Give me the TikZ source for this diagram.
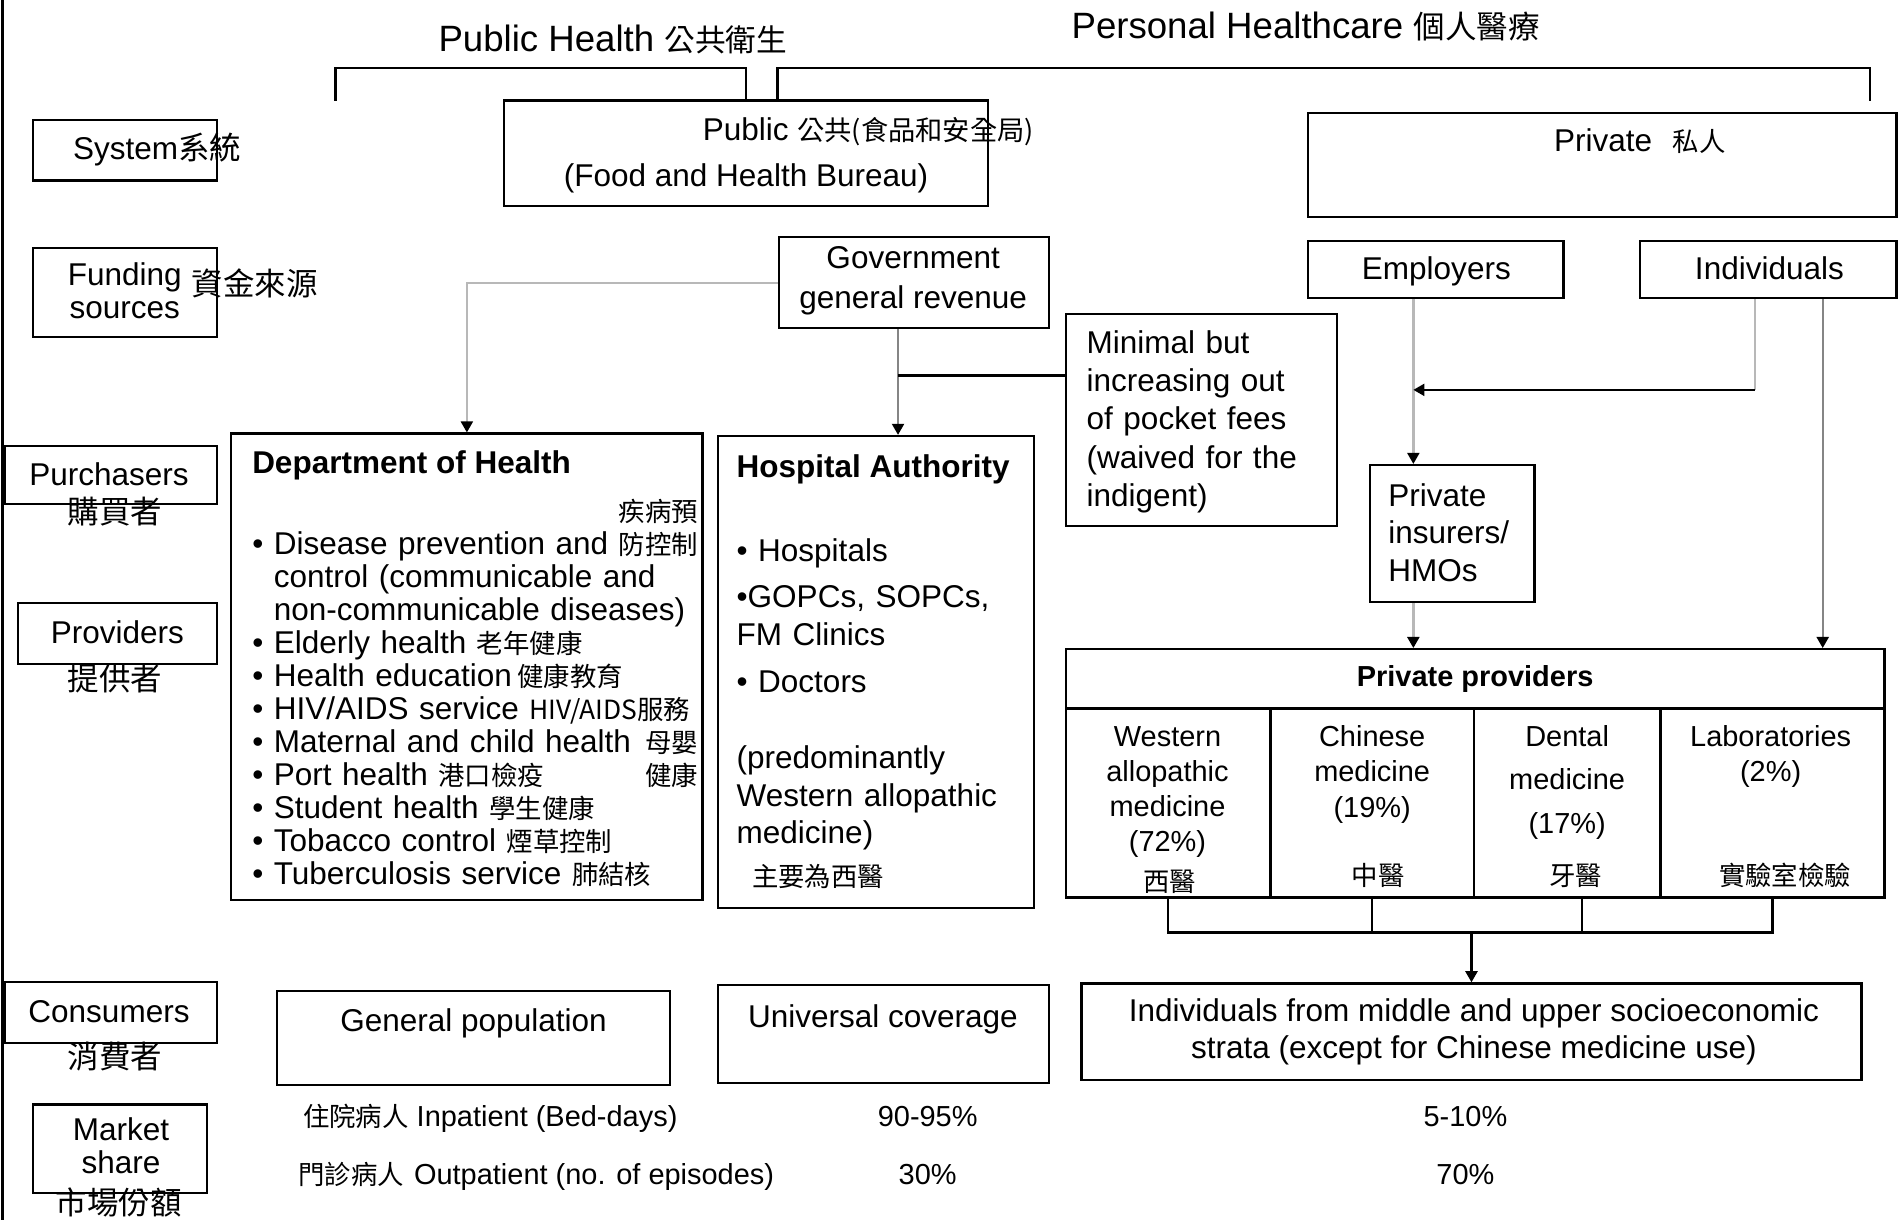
\documentclass[tikz,border=0pt]{standalone}
\usepackage{fontspec}
\setmainfont{Liberation Sans}
\newfontfamily\cjk{Noto Sans CJK TC}
\usetikzlibrary{arrows.meta,calc,fit}

\definecolor{lightline}{gray}{0.72}
\definecolor{midline}{gray}{0.52}
\newcommand{\fsz}[2]{\fontsize{#1pt}{#2pt}\selectfont}
\newcommand{\zhs}[1]{{\cjk\fontsize{15.5pt}{19pt}\selectfont #1}}

\begin{document}
\begin{tikzpicture}[x=0.025cm, y=-0.025cm,
    box/.style={draw, line width=1.3pt, inner sep=0pt},
    txt/.style={inner sep=0pt, font=\fsz{18.5}{19.3}},
    smalltxt/.style={inner sep=0pt, font=\fsz{17}{20.6}},
    zh/.style={inner sep=0pt, font=\cjk\fsz{15.5}{19}},
    zhlabel/.style={inner sep=0pt, font=\cjk\fsz{18.5}{22}},
    flow/.style={line width=1.4pt, -{Triangle[length=6.5pt,width=7pt,color=black]}},
    link/.style={line width=1.4pt}]

  \useasboundingbox (0,0) rectangle (1568,1007);

  % Left frame line
  \draw[line width=1.6pt] (2,0) -- (2,1007);

  % Headings over the two sectors
  \node[txt, font=\fsz{21.5}{24}] (phtitle) at (506,33) {Public Health {\cjk\fsz{18}{20}公共衛生}};
  \node[txt, font=\fsz{21.5}{24}] (phctitle) at (1078,22) {Personal Healthcare {\cjk\fsz{18.5}{20}個人醫療}};

  % Row labels
  \node[box, fit={(27,99) (179,149)}] (sysbox) {};
  \node[txt, anchor=base west] (systxt) at (60,132) {System{\cjk 系統}};

  \node[box, fit={(27,205) (179,278)}] (fundbox) {};
  \node[txt, align=center] (fundtxt) at (103,240) {Funding\\sources};
  \node[zhlabel, anchor=base west] (fundzh) at (158,244) {資金來源};

  \node[box, fit={(4,368) (179,416)}] (purbox) {};
  \node[txt, anchor=base] (purtxt) at (90,401) {Purchasers};
  \node[zhlabel, anchor=base] (purzh) at (95,432) {購買者};

  \node[box, fit={(15,498) (179,548)}] (provbox) {};
  \node[txt, anchor=base] (provtxt) at (97,531) {Providers};
  \node[zhlabel, anchor=base] (provzh) at (95,570) {提供者};

  \node[box, fit={(4,811) (179,861)}] (consbox) {};
  \node[txt, anchor=base] (constxt) at (90,844) {Consumers};
  \node[zhlabel, anchor=base] (conszh) at (95,882) {消費者};

  \node[box, fit={(27,912) (171,985)}] (mktbox) {};
  \node[txt, align=center] (mkttxt) at (100,946) {Market\\share};
  \node[zhlabel, anchor=base] (mktzh) at (98,1003) {市場份額};

  % System
  \node[box, fit={(416,83) (816,170)}] (pubbox) {};
  \node[txt, anchor=base west] (pubtxt) at (580,116) {Public {\cjk\fsz{16}{19}公共(食品和安全局)}};
  \node[txt] (fhbtxt) at (616,147) {(Food and Health Bureau)};

  \node[box, fit={(1080,93) (1566,179)}] (privbox) {};
  \node[txt, anchor=base west] (privtxt) at (1283,125) {Private\hspace{12pt}{\cjk\fsz{15.5}{19}私人}};

  \draw[link] (277,83) -- (277,56) -| (pubbox.north);
  \draw[link] ($(pubbox.north)+(26,0)$) |- (1544,56) -- (1544,83);

  % Funding sources
  \node[box, fit={(643,196) (866,271)}] (gov) {};
  \node[txt, align=center, font=\fsz{18.5}{23.5}] (govtxt) at (754,232) {Government\\general revenue};

  \node[box, fit={(1080,199) (1291,246)}] (emp) {};
  \node[txt, anchor=base] (emptxt) at (1186,231) {Employers};

  \node[box, fit={(1354,199) (1566,246)}] (indiv) {};
  \node[txt, anchor=base] (indivtxt) at (1461,231) {Individuals};

  \node[box, fit={(880,259) (1104,434)}] (oop) {};
  \node[txt, anchor=base west, text width=5.2cm, align=left, font=\fsz{18.5}{22.4}] (ooptxt) at (897,292)
    {Minimal but\\increasing out\\of pocket fees\\(waived for the\\indigent)};

  % Purchasers and providers
  \node[box, fit={(191,358) (580,743)}] (doh) {};
  \node[txt, anchor=base west, font=\bfseries\fsz{18.5}{19.3}] (dohtitle) at (208,391) {Department of Health};
  \node[txt, anchor=base west, text width=9.2cm, align=left, font=\fsz{18.5}{19.35}] (dohlist) at (208,431)
    {\hspace*{\fill}\zhs{疾病預}\\
     \textbullet\ Disease prevention and \hfill\zhs{防控制}\\
     \phantom{\textbullet\ }control (communicable and\\
     \phantom{\textbullet\ }non-communicable diseases)\\
     \textbullet\ Elderly health \zhs{老年健康}\\
     \textbullet\ Health education\,\zhs{健康教育}\\
     \textbullet\ HIV/AIDS service \zhs{HIV/AIDS服務}\\
     \textbullet\ Maternal and child health \hfill\zhs{母嬰}\\
     \textbullet\ Port health \zhs{港口檢疫}\hfill\zhs{健康}\\
     \textbullet\ Student health \zhs{學生健康}\\
     \textbullet\ Tobacco control \zhs{煙草控制}\\
     \textbullet\ Tuberculosis service \zhs{肺結核}};

  \node[box, fit={(593,360) (854,750)}] (ha) {};
  \node[txt, anchor=base west, font=\bfseries\fsz{18.5}{20}] (hatitle) at (608,394) {Hospital Authority};
  \node[txt, anchor=base west, text width=6cm, align=left, font=\fsz{18.5}{22}] (halist) at (608,464)
    {\textbullet\ Hospitals\\[5pt]
     \textbullet GOPCs, SOPCs,\\
     FM Clinics\\[5.5pt]
     \textbullet\ Doctors\\[23pt]
     (predominantly\\
     Western allopathic\\
     medicine)\\[3pt]
     \hspace*{9pt}\zhs{主要為西醫}};

  \node[box, fit={(1131,384) (1267,497)}] (ins) {};
  \node[txt, anchor=base west, text width=3cm, align=left, font=\fsz{18.5}{22}] (instxt) at (1146,418)
    {Private\\insurers/\\HMOs};

  % Private providers table
  \node[box, fit={(880,536) (1556,585)}] (provhead) {};
  \node[txt, font=\bfseries\fsz{17}{20}] (provheadtxt) at (provhead) {Private providers};
  \node[box, fit={(880,585) (1049,741)}] (pwest) {};
  \node[box, fit={(1049,585) (1217,741)}] (pchin) {};
  \node[box, fit={(1217,585) (1371,741)}] (pdent) {};
  \node[box, fit={(1371,585) (1556,741)}] (plab) {};

  \node[smalltxt, anchor=base, text width=4cm, align=center] (pwesttxt) at (964,616)
    {Western\\allopathic\\medicine\\(72\%)};
  \node[smalltxt, anchor=base, text width=4cm, align=center, font=\fsz{17}{21}] (pchintxt) at (1133,616)
    {Chinese\\medicine\\(19\%)};
  \node[smalltxt, anchor=base, text width=4cm, align=center, font=\fsz{17}{25.6}] (pdenttxt) at (1294,616)
    {Dental\\medicine\\(17\%)};
  \node[smalltxt, anchor=base, text width=4cm, align=center] (plabtxt) at (1462,616)
    {Laboratories\\(2\%)};
  \node[zh, anchor=base] (pwestzh) at (966,736) {西醫};
  \node[zh, anchor=base] (pchinzh) at (1138,731) {中醫};
  \node[zh, anchor=base] (pdentzh) at (1301,731) {牙醫};
  \node[zh, anchor=base] (plabzh) at (1474,731) {實驗室檢驗};

  % Consumers
  \node[box, fit={(229,818) (553,896)}] (genpop) {};
  \node[txt, anchor=base] (genpoptxt) at (391,852) {General population};
  \node[box, fit={(593,813) (866,894)}] (univ) {};
  \node[txt, anchor=base] (univtxt) at (729,848) {Universal coverage};
  \node[box, fit={(893,812) (1537,892)}] (midup) {};
  \node[txt, align=center, font=\fsz{18.5}{22}] (midtxt) at (1217,852)
    {Individuals from middle and upper socioeconomic\\strata (except for Chinese medicine use)};

  % Market share
  \node[smalltxt, anchor=base west] (inpat) at (250,930) {{\cjk\fsz{15.5}{19}住院病人} Inpatient (Bed-days)};
  \node[smalltxt, anchor=base west] (outpat) at (246,978) {{\cjk\fsz{15.5}{19}門診病人}\hspace{6pt}Outpatient (no. of episodes)};
  \node[smalltxt, anchor=base] (inpub) at (766,930) {90-95\%};
  \node[smalltxt, anchor=base] (outpub) at (766,978) {30\%};
  \node[smalltxt, anchor=base] (inpriv) at (1210,930) {5-10\%};
  \node[smalltxt, anchor=base] (outpriv) at (1210,978) {70\%};

  % Public money flows
  \draw[flow, draw=lightline] (gov.west) -| (doh.north);
  \coordinate (govout) at ($(gov.south)+(-13,0)$);
  \draw[flow, draw=midline] (govout) -- (govout |- ha.north);
  \coordinate (govjoin) at ($(govout)+(0,38)$);
  \draw[link] (govjoin -| oop.west) -- (govjoin);

  % Private money flows
  \coordinate (empout) at ($(emp.south)+(-18.5,0)$);
  \draw[flow, draw=lightline] (empout) -- (empout |- ins.north);
  \coordinate (indout) at ($(indiv.south)+(-11,0)$);
  \coordinate (indturn) at ($(indout)+(0,75)$);
  \draw[link, draw=lightline] (indout) -- (indturn);
  \draw[flow] (indturn) -- (indturn -| empout);
  \coordinate (indright) at ($(indiv.south)+(45,0)$);
  \draw[flow, draw=midline] (indright) -- (indright |- provhead.north);
  \draw[flow, draw=lightline] (ins.south -| empout) -- (empout |- provhead.north);

  % Private providers to their consumers
  \coordinate (merge) at (1217,770);
  \draw[link] (pwest.south) -- (pwest.south |- merge) -- (plab.south |- merge) -- (plab.south);
  \draw[link] (pchin.south) -- (pchin.south |- merge);
  \draw[link] ($(pdent.south)+(12,0)$) -- ($(pdent.south)+(12,29)$);
  \draw[flow] (midup.north |- merge) -- (midup.north);

\end{tikzpicture}
\end{document}
